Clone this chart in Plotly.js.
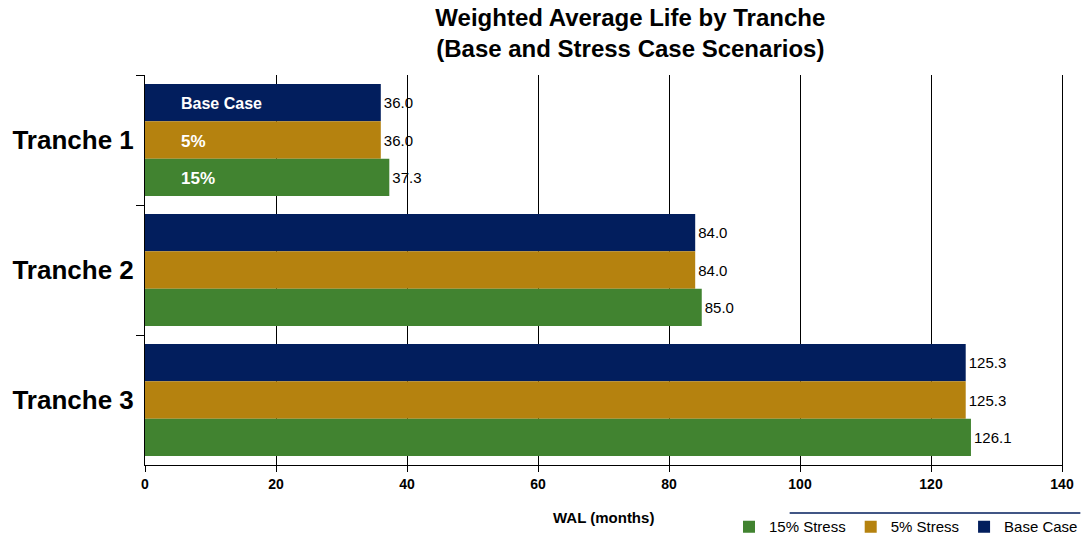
<!DOCTYPE html>
<html><head><meta charset="utf-8">
<script src="https://cdn.plot.ly/plotly-3.0.1.min.js"></script>
<style>body{margin:0;background:#fff}#chart{width:1083px;height:536px}</style>
</head><body><div id="chart"></div>
<script>
const categories = ["Tranche 1", "Tranche 2", "Tranche 3"];
const baseCase = [36.0, 84.0, 125.3];
const stress5 = [36.0, 84.0, 125.3];
const stress15 = [37.3, 85.0, 126.1];
const seriesNames = ["Base Case", "5% Stress", "15% Stress"];
const innerLabels = ["Base Case", "5%", "15%"];
const xTicks = [0, 20, 40, 60, 80, 100, 120, 140];
const xTitle = "WAL (months)";

const FONT = "Arial, Liberation Sans, sans-serif";
const colors = ["#021E5D", "#B5820F", "#418330"];
const series = [baseCase, stress5, stress15];

const traces = series.map((vals, i) => ({
  type: "bar", orientation: "h",
  name: seriesNames[i], x: vals, y: categories,
  marker: {color: colors[i], line: {width: 0}},
  text: vals.map(v => v.toFixed(1)), textposition: "outside",
  textfont: {family: FONT, size: 15, color: "#000"},
  cliponaxis: false
}));

const annotations = innerLabels.map((t, i) => ({
  x: 0, y: categories[0], xref: "x", yref: "y",
  text: "<b>" + t + "</b>", showarrow: false,
  xanchor: "left", xshift: 34, yshift: 37.5 * (1 - i) - 1,
  font: {family: FONT, size: i === 0 ? 16 : 17, color: "#fff"}
}));
annotations.push({
  x: 0.5, y: 0, xref: "paper", yref: "paper", yshift: -52,
  xanchor: "center", yanchor: "middle", showarrow: false,
  text: "<b>" + xTitle + "</b>", font: {family: FONT, size: 15, color: "#000"}
});

const layout = {
  width: 1083, height: 536,
  margin: {l: 145, r: 21, t: 75, b: 71},
  paper_bgcolor: "#fff", plot_bgcolor: "#fff",
  font: {family: FONT, color: "#000"},
  title: {
    text: "<b>Weighted Average Life by Tranche<br>(Base and Stress Case Scenarios)</b>",
    font: {size: 24, family: FONT, color: "#000"},
    x: 0.582, xanchor: "center", y: 0.951, yanchor: "middle", xref: "container", yref: "container"
  },
  barmode: "group", bargap: 0.14, bargroupgap: 0,
  xaxis: {
    range: [0, 140], tickvals: xTicks, ticktext: xTicks.map(String),
    showgrid: true, gridcolor: "#000", gridwidth: 1,
    showline: true, linecolor: "#000", linewidth: 1,
    ticks: "outside", ticklen: 6, tickcolor: "#000",
    tickfont: {size: 14, family: FONT, weight: "bold"},
    zeroline: false
  },
  yaxis: {
    type: "category", autorange: "reversed",
    showline: true, linecolor: "#000", linewidth: 1, mirror: true,
    ticks: "outside", ticklen: 8, tickcolor: "#000", tickson: "boundaries",
    ticklabelstandoff: 5,
    tickfont: {size: 26, family: FONT, weight: "bold"},
    showgrid: false
  },
  showlegend: true,
  legend: {
    orientation: "h", traceorder: "reversed",
    xref: "container", yref: "container",
    x: 1.0, xanchor: "right", y: 0.017, yanchor: "middle",
    font: {size: 15}, itemwidth: 30,
    itemclick: false, bgcolor: "rgba(0,0,0,0)"
  },
  shapes: [{
    type: "line", xref: "paper", yref: "paper",
    x0: 0.703, x1: 1.02, y0: -0.123, y1: -0.123,
    line: {color: "#021E5D", width: 1.5}
  }],
  annotations: annotations
};

Plotly.newPlot("chart", traces, layout, {displayModeBar: false, staticPlot: true});
</script></body></html>
